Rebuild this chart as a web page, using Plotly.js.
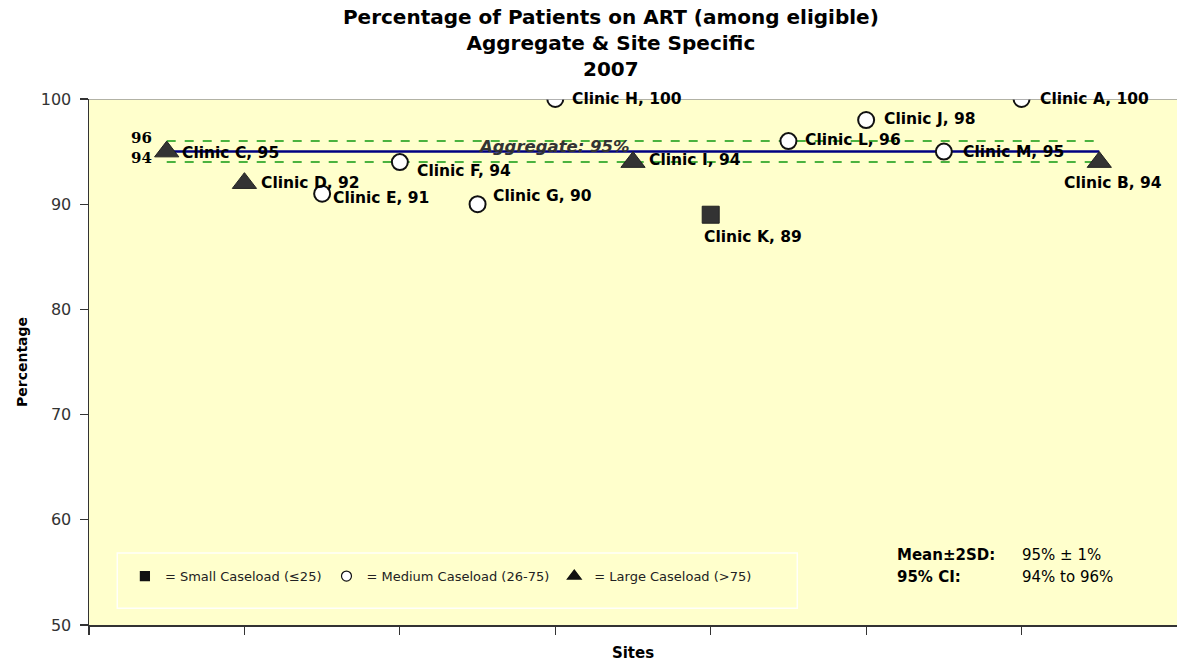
<!DOCTYPE html>
<html>
<head>
<meta charset="utf-8">
<script src="https://cdn.plot.ly/plotly-3.0.1.min.js"></script>
<style>html,body{margin:0;padding:0;background:#fff}#chart{width:1177px;height:662px}</style>
</head>
<body>
<div id="chart"></div>
<script>
// ---- data ----
const sites    = ["Clinic C","Clinic D","Clinic E","Clinic F","Clinic G","Clinic H","Clinic I","Clinic K","Clinic L","Clinic J","Clinic M","Clinic A","Clinic B"];
const values   = [95, 92, 91, 94, 90, 100, 94, 89, 96, 98, 95, 100, 94];
const caseload = ["large","large","medium","medium","medium","medium","large","small","medium","medium","medium","medium","large"];
const aggregate = 95;
const ciLower = 94;
const ciUpper = 96;
const legendLabels = {small:"= Small Caseload (≤25)", medium:"= Medium Caseload (26-75)", large:"= Large Caseload (>75)"};
const yTicks = [50, 60, 70, 80, 90, 100];

// ---- styles / label placement (pixels) ----
const styleOf = {
  small:  {symbol:"square",       size:17, color:"#333333", line:{color:"#222", width:1}},
  medium: {symbol:"circle",       size:16, color:"#ffffff", line:{color:"#111", width:2}},
  large:  {symbol:"triangle-up",  size:21, color:"#333333", line:{color:"#222", width:1}}
};
const labelShift = [[13,-1],[15,0],[9,-4],[15,-9],[13,8],[15,0],[14,2],[-9,-22],[15,1],[16,1],[17,0],[16,0],[-37,-21]];

const xs = sites.map((_, i) => 0.5 + i * 0.5);
const xMin = xs[0], xMax = xs[xs.length - 1];
const labelFont = {family:"DejaVu Sans", size:15.5, color:"#000"};

const traces = [];
// CI dashed lines
[ciUpper, ciLower].forEach(v => traces.push({
  x:[xMin, xMax], y:[v, v], mode:"lines", hoverinfo:"skip", showlegend:false,
  line:{color:"#119911", width:1.5, dash:"dash"}
}));
// aggregate line
traces.push({x:[xMin, xMax], y:[aggregate, aggregate], mode:"lines", showlegend:false,
  line:{color:"#000080", width:2.5}});
// points
traces.push({
  x: xs, y: values, mode:"markers", showlegend:false,
  marker:{
    opacity:1,
    symbol: caseload.map(c => styleOf[c].symbol),
    size: caseload.map(c => styleOf[c].size),
    color: caseload.map(c => styleOf[c].color),
    line:{color: caseload.map(c => styleOf[c].line.color), width: caseload.map(c => styleOf[c].line.width)}
  }
});
// legend-only traces
const legendSizes = {small:9, medium:10, large:12};
["small","medium","large"].forEach(c => traces.push({
  x:[null], y:[null], mode:"markers", name: legendLabels[c], showlegend:true,
  marker:{symbol:styleOf[c].symbol, size:legendSizes[c], opacity:1,
    color: c === "medium" ? "#ffffff" : "#111111",
    line:{color:"#111", width:1.2}}
}));

const annotations = sites.map((s, i) => ({
  x: xs[i], y: values[i], xref:"x", yref:"y", text:"<b>" + s + ", " + values[i] + "</b>",
  showarrow:false, xanchor:"left", yanchor:"middle",
  xshift: labelShift[i][0], yshift: labelShift[i][1], font: labelFont
}));
const statFont = {family:"DejaVu Sans", size:15, color:"#000"};
annotations.push(
  {x:xMin, y:ciUpper, xref:"x", yref:"y", text:"<b>" + ciUpper + "</b>", showarrow:false, xanchor:"right", yanchor:"middle", xshift:-13, yshift:3, font:{family:"DejaVu Serif", size:15, color:"#000"}},
  {x:xMin, y:ciLower, xref:"x", yref:"y", text:"<b>" + ciLower + "</b>", showarrow:false, xanchor:"right", yanchor:"middle", xshift:-13, yshift:4, font:{family:"DejaVu Serif", size:15, color:"#000"}},
  {x:2.487, y:aggregate, xref:"x", yref:"y", text:"<b><i>Aggregate: " + aggregate + "%</i></b>", showarrow:false, xanchor:"left", yanchor:"middle", yshift:5, font:{family:"DejaVu Sans", size:16.5, color:"#333"}},
  {x:0.741, y:0.133, xref:"paper", yref:"paper", text:"<b>Mean±2SD:</b>", showarrow:false, xanchor:"left", yanchor:"middle", font:statFont},
  {x:0.856, y:0.133, xref:"paper", yref:"paper", text:aggregate + "% ± " + (ciUpper - aggregate) + "%", showarrow:false, xanchor:"left", yanchor:"middle", font:statFont},
  {x:0.741, y:0.091, xref:"paper", yref:"paper", text:"<b>95% CI:</b>", showarrow:false, xanchor:"left", yanchor:"middle", font:statFont},
  {x:0.856, y:0.091, xref:"paper", yref:"paper", text:ciLower + "% to " + ciUpper + "%", showarrow:false, xanchor:"left", yanchor:"middle", font:statFont}
);

const layout = {
  width:1177, height:662,
  margin:{l:89, r:0, t:99, b:37},
  paper_bgcolor:"#ffffff", plot_bgcolor:"#FFFFCC",
  title:{text:"<b>Percentage of Patients on ART (among eligible)<br>Aggregate &amp; Site Specific<br>2007</b>",
    font:{family:"DejaVu Sans", size:20, color:"#000"}, x:0.519, xanchor:"center", yref:"container", y:0.963, yanchor:"middle"},
  xaxis:{range:[0,7], tickvals:[0,1,2,3,4,5,6], ticks:"outside", ticklen:8, tickcolor:"#333", tickwidth:1.2,
    showticklabels:false, showgrid:false, zeroline:false, showline:true, linecolor:"#333", linewidth:1.5,
    title:{text:"<b>Sites</b>", font:{family:"DejaVu Sans", size:15, color:"#000"}, standoff:14}},
  yaxis:{range:[50,100], tickvals:yTicks, ticks:"outside", ticklen:8, tickcolor:"#333", tickwidth:1.2,
    showgrid:false, zeroline:false, showline:true, linecolor:"#333", linewidth:1.5,
    ticklabelstandoff:5,
    tickfont:{family:"DejaVu Sans", size:16, color:"#333"},
    title:{text:"<b>Percentage</b>", font:{family:"DejaVu Sans", size:14, color:"#000"}, standoff:10}},
  showlegend:true,
  legend:{orientation:"h", x:0.033, xanchor:"left", y:0.093, yanchor:"middle", bgcolor:"rgba(0,0,0,0)",
    font:{family:"DejaVu Sans", size:13, color:"#222"}},
  shapes:[
    {type:"line", xref:"paper", yref:"y", x0:0, x1:1, y0:100, y1:100, line:{color:"#999", width:1.5}},
    {type:"rect", xref:"paper", yref:"paper", x0:0.026, x1:0.651, y0:0.032, y1:0.137, line:{color:"rgba(255,255,255,0.9)", width:1.5}, fillcolor:"rgba(0,0,0,0)"}
  ],
  annotations: annotations
};

Plotly.newPlot("chart", traces, layout, {displayModeBar:false, staticPlot:true});
</script>
</body>
</html>
